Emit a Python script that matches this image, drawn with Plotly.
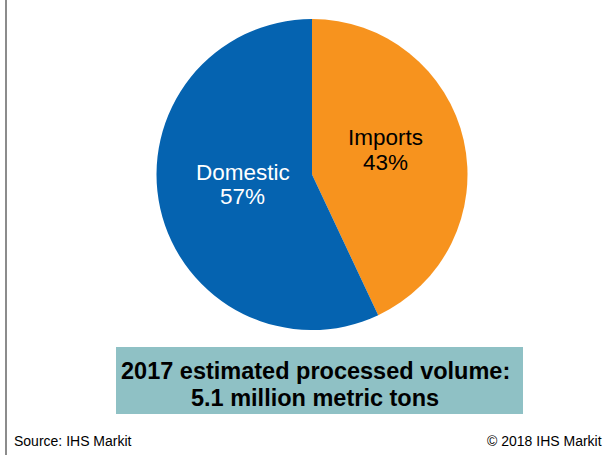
import plotly.graph_objects as go

labels = ["Imports", "Domestic"]
values = [43, 57]
colors = ["#F7931E", "#0563B0"]
text_colors = ["#000000", "#FFFFFF"]
box_lines = ["2017 estimated processed volume:", "5.1 million metric tons"]
source_text = "Source: IHS Markit"
copyright_text = "© 2018 IHS Markit"

W, H = 605, 456
cx, cy, r = 312, 174.5, 155.5
FONT = "Liberation Sans, Arial, sans-serif"

def py(y):
    return 1 - y / H

fig = go.Figure()
fig.add_trace(go.Pie(
    labels=labels, values=values, sort=False, direction="clockwise", rotation=0,
    marker=dict(colors=colors, line=dict(width=0)),
    textinfo="none", hoverinfo="label+percent", showlegend=False,
    domain=dict(x=[(cx - r) / W, (cx + r) / W], y=[py(cy + r), py(cy - r)]),
))

# slice labels (two lines each)
label_pos = [(385.5, 137.5, 162.5), (243, 172, 196)]
for lab, v, tc, (px, y1, y2) in zip(labels, values, text_colors, label_pos):
    for txt, yy in ((lab, y1), (f"{v}%", y2)):
        fig.add_annotation(
            x=px / W, y=py(yy), xref="paper", yref="paper",
            text=txt, showarrow=False, xanchor="center", yanchor="middle",
            font=dict(family=FONT, size=22.5, color=tc),
        )

# teal box
fig.add_shape(type="rect", xref="paper", yref="paper",
              x0=116 / W, x1=523 / W, y0=py(414), y1=py(347),
              fillcolor="#8FC1C5", line=dict(width=0), layer="below")
for txt, yy in zip(box_lines, (371, 398)):
    fig.add_annotation(
        x=315 / W, y=py(yy), xref="paper", yref="paper",
        text="<b>" + txt + "</b>", showarrow=False, xanchor="center", yanchor="middle",
        font=dict(family=FONT, size=23.5, color="#000000"),
    )

# left border line
fig.add_shape(type="line", xref="paper", yref="paper",
              x0=6 / W, x1=6 / W, y0=py(455), y1=1,
              line=dict(color="#8C8C8C", width=2))

fig.add_annotation(x=12 / W, y=py(441), xref="paper", yref="paper",
                   text=source_text, showarrow=False, xanchor="left", yanchor="middle",
                   font=dict(family=FONT, size=14, color="#000000"))
fig.add_annotation(x=604 / W, y=py(441), xref="paper", yref="paper",
                   text=copyright_text, showarrow=False, xanchor="right", yanchor="middle",
                   font=dict(family=FONT, size=14, color="#000000"))

fig.update_layout(width=W, height=H, margin=dict(l=0, r=0, t=0, b=0),
                  paper_bgcolor="white", plot_bgcolor="white")
fig.write_html("out.html")
